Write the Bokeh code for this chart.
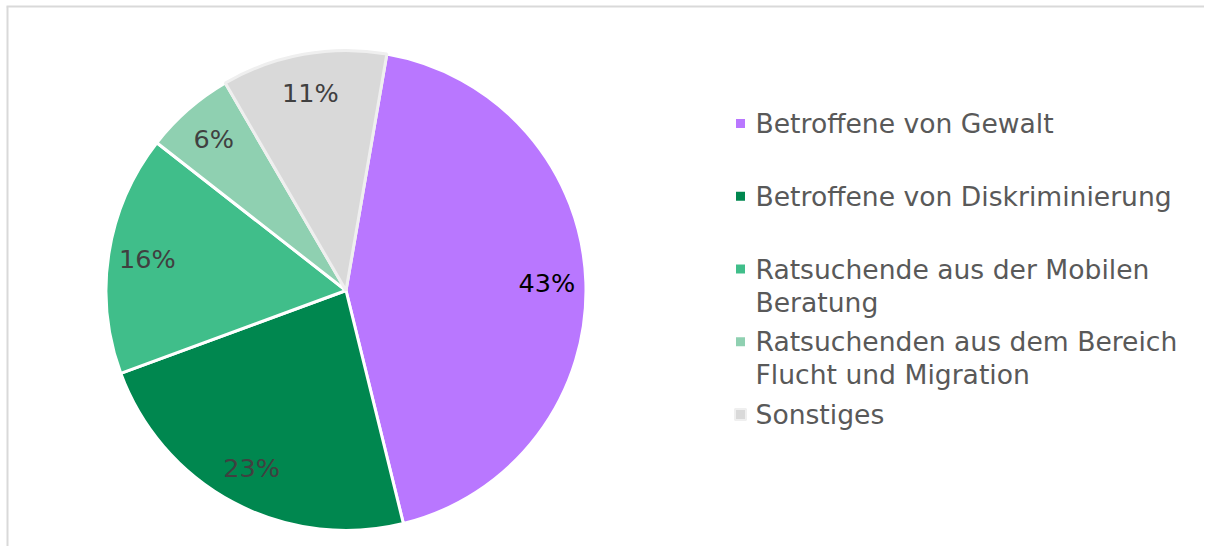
import math
from bokeh.plotting import figure
from bokeh.models import Range1d, ColumnDataSource
from bokeh.core.properties import value
from bokeh.embed import file_html
from bokeh.resources import INLINE

# ---- data ----
categories = [
    "Betroffene von Gewalt",
    "Betroffene von Diskriminierung",
    "Ratsuchende aus der Mobilen\nBeratung",
    "Ratsuchenden aus dem Bereich\nFlucht und Migration",
    "Sonstiges",
]
shares = [43, 23, 16, 6, 11]
colors = ["#B977FF", "#00874F", "#40BE8A", "#8FD0B1", "#D9D9D9"]
edge_colors = ["#FFFFFF", "#FFFFFF", "#FFFFFF", "#FFFFFF", "#EFEFEF"]
label_colors = ["#000000", "#404040", "#404040", "#404040", "#404040"]

# ---- layout ----
W, H = 1204, 546
FONT = "DejaVu Sans"
cx, cy, R = 345.5, H - 290, 240
first_angle = 9.8  # degrees clockwise from 12 o'clock
label_r = 201

p = figure(width=W, height=H, output_backend="svg", toolbar_location=None,
           x_range=Range1d(0, W), y_range=Range1d(0, H),
           x_axis_type=None, y_axis_type=None, min_border=0)
p.outline_line_color = None
p.grid.visible = False
p.background_fill_color = "white"
p.border_fill_color = "white"

# frame lines (top and left only)
p.segment(x0=[7, 6], y0=[0, H - 6], x1=[7, W], y1=[H - 6, H - 6],
          line_color="#D9D9D9", line_width=2)

total = sum(shares)
starts, ends, lx, ly, labels = [], [], [], [], []
cum = 0.0
for s in shares:
    a0 = 90 - first_angle - cum / total * 360
    a1 = a0 - s / total * 360
    starts.append(math.radians(a1))
    ends.append(math.radians(a0))
    mid = math.radians((a0 + a1) / 2)
    lx.append(cx + label_r * math.cos(mid))
    ly.append(cy + label_r * math.sin(mid))
    labels.append(f"{s}%")
    cum += s

src = ColumnDataSource(dict(start=starts, end=ends, color=colors,
                            edge=edge_colors, lx=lx, ly=ly, label=labels,
                            tcol=label_colors))
p.wedge(x=cx, y=cy, radius=R, start_angle="start", end_angle="end",
        direction="anticlock", fill_color="color", line_color="edge",
        line_width=3, source=src)
p.text(x="lx", y="ly", text="label", text_color="tcol", source=src,
       text_font=value(FONT), text_font_size="25.5px",
       text_align="center", text_baseline="middle")

# legend
leg_x_marker, leg_x_text = 740, 755
leg_y0, leg_step, line_step = H - 123, 72.75, 33
mx, my, tx, ty, tt = [], [], [], [], []
for i, cat in enumerate(categories):
    y = leg_y0 - i * leg_step
    mx.append(leg_x_marker)
    my.append(y)
    for j, line in enumerate(cat.split("\n")):
        tx.append(leg_x_text)
        ty.append(y - j * line_step)
        tt.append(line)
p.rect(x=mx, y=my, width=11, height=11, fill_color=colors,
       line_color=edge_colors, line_width=2)
p.text(x=tx, y=ty, text=tt, text_color="#595959",
       text_font=value(FONT), text_font_size="26.6px",
       text_align="left", text_baseline="middle")

open("out.html", "w").write(file_html(p, INLINE))
